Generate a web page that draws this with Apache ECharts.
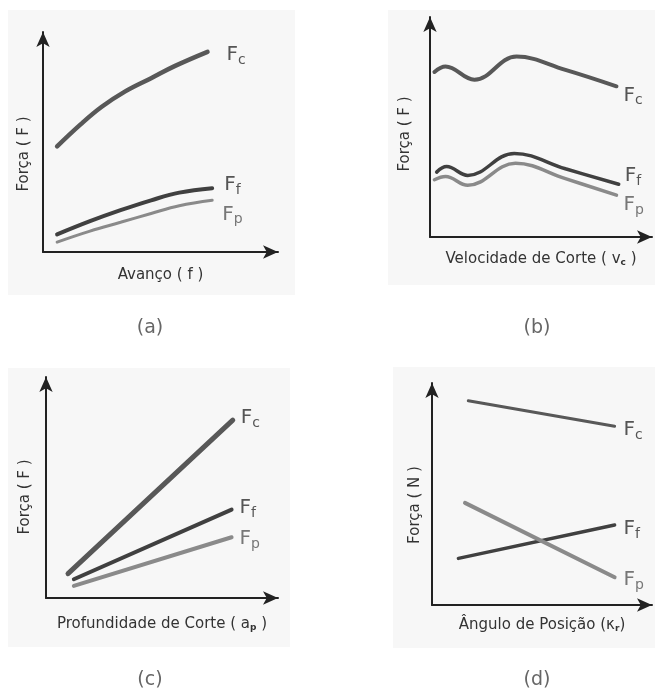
<!DOCTYPE html>
<html>
<head>
<meta charset="utf-8">
<script src="https://cdn.jsdelivr.net/npm/echarts@6/dist/echarts.min.js"></script>
<style>
  html, body { margin: 0; background: #fff; }
  #chart { width: 655px; height: 693px; }
</style>
</head>
<body>
<div id="chart"></div>
<script>
// (a) força x avanço
const avancoFc = [[6, 48], [16, 58], [25, 66], [35, 73], [46, 79], [56, 84.5], [70, 91]]
const avancoFf = [[6, 8], [20, 14], [33, 19], [46, 23.5], [58, 27], [72, 29]]
const avancoFp = [[6, 4.5], [20, 9.5], [33, 13.5], [46, 17.5], [58, 21], [72, 23.5]]

// (b) força x velocidade de corte
const velocFc = [[2, 75], [7, 77.5], [20, 71.5], [39, 82], [61, 76], [84, 68.5]]
const velocFf = [[3, 29.5], [7.5, 32], [17, 28], [38, 38], [61, 31], [85, 24]]
const velocFp = [[2, 26], [7, 27.5], [17, 23.5], [38.5, 33.5], [61, 26.5], [84, 19]]

// (c) força x profundidade de corte
const profFc = [[9.5, 11], [80.5, 80.5]]
const profFf = [[12, 8.5], [80, 40]]
const profFp = [[12, 5.5], [80, 27.5]]

// (d) força x ângulo de posição
const anguloFc = [[16.5, 92], [83, 80.5]]
const anguloFf = [[12, 21], [83, 36]]
const anguloFp = [[15, 46], [83, 12.5]]

const forceNames = ['Fc', 'Ff', 'Fp']
const subs = ['c', 'f', 'p']
const panelTags = ['(a)', '(b)', '(c)', '(d)']
const xNames = [
  'Avanço ( f )',
  'Velocidade de Corte ( v{s|c} )',
  'Profundidade de Corte ( a{s|p} )',
  'Ângulo de Posição (κ{s|r})'
]
const yNames = ['Força ( F )', 'Força ( F )', 'Força ( F )', 'Força ( N )']

const panelData = [
  [avancoFc, avancoFf, avancoFp],
  [velocFc, velocFf, velocFp],
  [profFc, profFf, profFp],
  [anguloFc, anguloFf, anguloFp]
]

const lineColors = ['#585858', '#404040', '#8a8a8a']
const smoothPanels = [true, true, false, false]

const grids = [
  { left: 43, top: 32, width: 235, height: 220 },
  { left: 430, top: 17, width: 222, height: 220 },
  { left: 46, top: 377, width: 232, height: 221 },
  { left: 432, top: 383, width: 220, height: 222 }
]
const backs = [
  [8, 10, 287, 285],
  [388, 10, 267, 275],
  [8, 368, 282, 279],
  [393, 367, 262, 281]
]
const tagPos = [[150, 328], [537, 328], [150, 680], [537, 680]]
const yNameCenter = [154, 134, 497, 505]
const yNameGap = [11, 17, 13, 9]
const xNameGap = [16, 14, 18, 12]

// label offsets (label vs line end)
const labelOffsets = [
  [[19, 3], [12, -3], [10, 14]],
  [[7, 9], [6, -8], [7, 10]],
  [[8, -2], [8, -2], [8, 2]],
  [[9, 4], [9, 4], [9, 3]]
]
const lineWidths = [
  [4.5, 4, 3],
  [4, 3.5, 3.5],
  [5, 4, 4],
  [3, 3.5, 4]
]

const font = 'DejaVu Sans'
const subRich = {
  F: { fontSize: 20, fontFamily: font, color: '#555' },
  s: { fontSize: 14, fontFamily: font, color: '#555', padding: [11, 0, 0, 0] }
}
const nameRich = {
  s: { fontSize: 9, fontFamily: font, color: '#333', fontWeight: 'bold', padding: [7, 0, 0, 0] }
}

const chart = echarts.init(document.getElementById('chart'))

const axisLine = {
  show: true,
  symbol: ['none', 'arrow'],
  symbolSize: [10, 15],
  lineStyle: { color: '#222', width: 2 }
}

const xAxes = grids.map((g, i) => ({
  type: 'value',
  gridIndex: i,
  min: 0,
  max: 100,
  name: xNames[i],
  nameLocation: 'middle',
  nameGap: xNameGap[i],
  nameTextStyle: { fontFamily: font, fontSize: 15, color: '#333', rich: nameRich },
  axisLine: axisLine,
  axisTick: { show: false },
  axisLabel: { show: false },
  splitLine: { show: false }
}))

const yAxes = grids.map((g, i) => {
  const mid = g.top + g.height / 2
  const shift = (yNameCenter[i] - mid) * 2
  return {
    type: 'value',
    gridIndex: i,
    min: 0,
    max: 100,
    name: yNames[i],
    nameLocation: 'middle',
    nameRotate: 90,
    nameGap: yNameGap[i],
    nameTextStyle: {
      fontFamily: font,
      fontSize: 15,
      color: '#333',
      padding: shift > 0 ? [0, shift, 0, 0] : [0, 0, 0, -shift]
    },
    axisLine: axisLine,
    axisTick: { show: false },
    axisLabel: { show: false },
    splitLine: { show: false }
  }
})

const series = []
panelData.forEach((lines, p) => {
  lines.forEach((data, k) => {
    series.push({
      name: forceNames[k],
      type: 'line',
      xAxisIndex: p,
      yAxisIndex: p,
      data: data,
      smooth: smoothPanels[p] ? 0.4 : false,
      showSymbol: false,
      silent: true,
      lineStyle: { color: lineColors[k], width: lineWidths[p][k], cap: 'round' },
      endLabel: {
        show: true,
        distance: 0,
        offset: labelOffsets[p][k],
        formatter: '{F|F}{s|' + subs[k] + '}',
        rich: k === 2
          ? {
              F: Object.assign({}, subRich.F, { color: '#777' }),
              s: Object.assign({}, subRich.s, { color: '#777' })
            }
          : subRich
      }
    })
  })
})

const graphic = backs.map(b => ({
  type: 'rect',
  z: -10,
  shape: { x: b[0], y: b[1], width: b[2], height: b[3] },
  style: { fill: '#f7f7f7' }
})).concat(panelTags.map((t, i) => ({
  type: 'text',
  x: tagPos[i][0],
  y: tagPos[i][1],
  style: {
    text: t,
    fill: '#666',
    font: '19px "DejaVu Sans"',
    align: 'center',
    verticalAlign: 'middle'
  }
})))

chart.setOption({
  animation: false,
  grid: grids,
  xAxis: xAxes,
  yAxis: yAxes,
  series: series,
  graphic: graphic
})
</script>
</body>
</html>
